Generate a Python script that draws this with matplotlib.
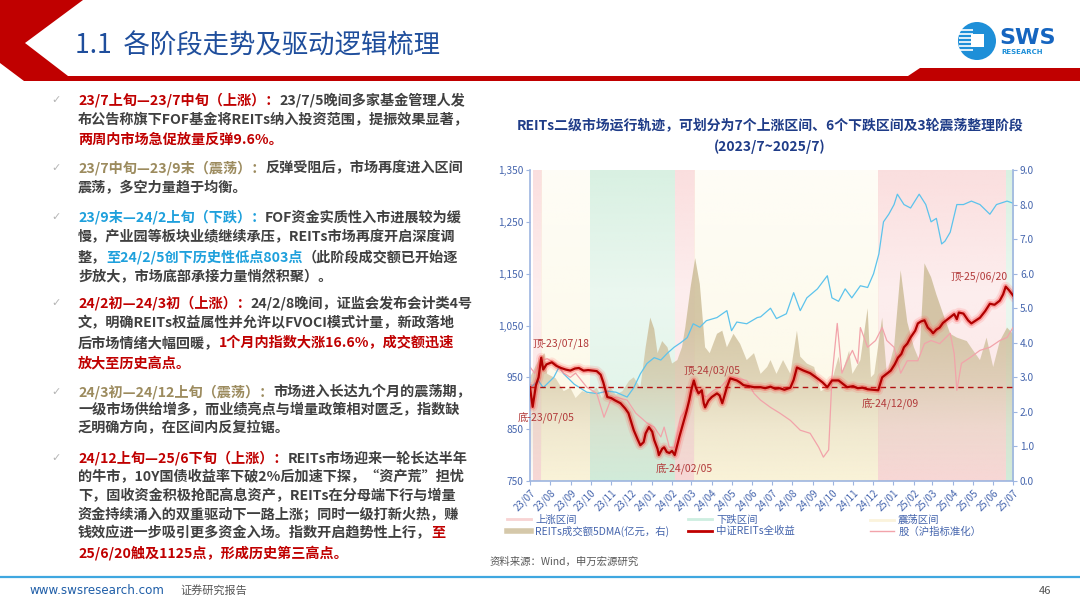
import numpy as np
import pandas as pd
import matplotlib
matplotlib.use("Agg")
from matplotlib import pyplot as plt
from matplotlib import rcParams
import matplotlib.dates as mdates
from matplotlib.lines import Line2D
from matplotlib.patches import Polygon, Circle, Rectangle
from matplotlib.colors import to_rgb
from matplotlib.ticker import FuncFormatter

FONT = ["Noto Sans CJK SC", "DejaVu Sans"]
rcParams["font.family"] = FONT
rcParams["axes.unicode_minus"] = False

navy = "#1f4e9c"
tickblue = "#4565ad"
spineblue = "#9db5e0"
red = "#c00000"
body = "#404040"
olive = "#9c8b5e"
sky = "#1ea0dc"

# ---------------- data ----------------
reits_dates = ["2023-07-01", "2023-07-05", "2023-07-10", "2023-07-14", "2023-07-18", "2023-07-21",
               "2023-07-26", "2023-08-03", "2023-08-10", "2023-08-17", "2023-08-24", "2023-08-31",
               "2023-09-07", "2023-09-13", "2023-09-20", "2023-09-27", "2023-10-10", "2023-10-16",
               "2023-10-20", "2023-10-26", "2023-11-01", "2023-11-06", "2023-11-15", "2023-11-22",
               "2023-11-27", "2023-12-05", "2023-12-11", "2023-12-15", "2023-12-20", "2023-12-23",
               "2023-12-28", "2024-01-02", "2024-01-05", "2024-01-10", "2024-01-12", "2024-01-17",
               "2024-01-20", "2024-01-24", "2024-01-28", "2024-02-01", "2024-02-05", "2024-02-08",
               "2024-02-12", "2024-02-19", "2024-02-23", "2024-02-27", "2024-03-01", "2024-03-05",
               "2024-03-08", "2024-03-12", "2024-03-17", "2024-03-20", "2024-03-22", "2024-03-27",
               "2024-04-01", "2024-04-09", "2024-04-13", "2024-04-17", "2024-04-21", "2024-04-24",
               "2024-04-29", "2024-05-09", "2024-05-14", "2024-05-19", "2024-05-27", "2024-06-04",
               "2024-06-14", "2024-06-21", "2024-06-29", "2024-07-06", "2024-07-13", "2024-07-20",
               "2024-07-29", "2024-08-03", "2024-08-08", "2024-08-13", "2024-08-18", "2024-08-28",
               "2024-09-08", "2024-09-16", "2024-09-23", "2024-09-30", "2024-10-10", "2024-10-16",
               "2024-10-23", "2024-11-01", "2024-11-08", "2024-11-15", "2024-11-23", "2024-12-01",
               "2024-12-09", "2024-12-15", "2024-12-20", "2024-12-28", "2025-01-03", "2025-01-08",
               "2025-01-13", "2025-01-17", "2025-01-22", "2025-01-27", "2025-02-03", "2025-02-07",
               "2025-02-12", "2025-02-17", "2025-02-22", "2025-02-27", "2025-03-02", "2025-03-07",
               "2025-03-12", "2025-03-17", "2025-03-22", "2025-03-30", "2025-04-03", "2025-04-07",
               "2025-04-10", "2025-04-17", "2025-04-24", "2025-04-29", "2025-05-06", "2025-05-12",
               "2025-05-20", "2025-05-27", "2025-06-03", "2025-06-11", "2025-06-16", "2025-06-20",
               "2025-06-25", "2025-07-01"]
reits_vals = [931, 893, 935, 950, 988, 965, 975, 979, 972, 968, 965, 963, 967, 968, 963, 964, 962, 955,
              940, 912, 910, 906, 900, 890, 881, 848, 830, 819, 825, 842, 854, 845, 829, 812, 800, 812,
              815, 806, 804, 808, 800, 815, 835, 867, 885, 906, 925, 944, 930, 919, 925, 900, 892, 905,
              912, 919, 915, 900, 918, 931, 948, 944, 940, 935, 933, 931, 931, 929, 932, 928, 929, 926,
              930, 945, 969, 966, 963, 958, 948, 940, 931, 944, 944, 938, 931, 933, 929, 930, 927, 926,
              925, 950, 955, 963, 975, 988, 995, 1008, 1015, 1027, 1040, 1054, 1058, 1060, 1046, 1040,
              1035, 1042, 1046, 1055, 1060, 1068, 1072, 1062, 1075, 1073, 1060, 1054, 1060, 1065, 1078,
              1092, 1090, 1098, 1110, 1125, 1118, 1108]

blue_dates = ["2023-07-01", "2023-07-14", "2023-07-21", "2023-08-06", "2023-08-14", "2023-08-21",
              "2023-08-28", "2023-09-06", "2023-09-25", "2023-10-10", "2023-10-26", "2023-11-08",
              "2023-11-25", "2023-12-05", "2023-12-15", "2023-12-25", "2024-01-05", "2024-01-15",
              "2024-01-25", "2024-02-04", "2024-02-14", "2024-02-24", "2024-03-04", "2024-03-14",
              "2024-03-24", "2024-04-09", "2024-04-24", "2024-05-01", "2024-05-09", "2024-05-24",
              "2024-06-09", "2024-06-14", "2024-06-29", "2024-07-08", "2024-07-23", "2024-08-03",
              "2024-08-13", "2024-08-23", "2024-09-08", "2024-09-23", "2024-09-30", "2024-10-10",
              "2024-10-20", "2024-10-30", "2024-11-12", "2024-11-23", "2024-12-02", "2024-12-10",
              "2024-12-17", "2024-12-25", "2025-01-02", "2025-01-07", "2025-01-17", "2025-01-27",
              "2025-02-09", "2025-02-19", "2025-02-27", "2025-03-07", "2025-03-15", "2025-03-20",
              "2025-03-28", "2025-04-07", "2025-04-17", "2025-04-29", "2025-05-12", "2025-05-27",
              "2025-06-06", "2025-06-22", "2025-07-01"]
blue_vals = [2.7, 2.9, 2.7, 3.0, 3.3, 3.1, 2.97, 2.8, 2.57, 2.53, 2.6, 2.57, 2.43, 2.7, 3.1, 3.4, 3.57,
             3.5, 3.7, 3.87, 4.0, 4.15, 4.55, 4.45, 4.64, 4.73, 4.93, 4.35, 4.6, 4.55, 4.73, 4.75, 5.0,
             4.7, 4.84, 5.45, 4.93, 5.3, 5.56, 5.94, 5.3, 5.2, 5.56, 5.3, 5.65, 5.6, 6.0, 6.57, 7.5,
             7.72, 8.0, 8.3, 8.0, 7.9, 8.3, 8.0, 7.5, 7.6, 6.86, 6.94, 7.2, 8.0, 8.0, 8.1, 8.0, 7.72,
             8.0, 8.1, 8.04]

stock_dates = ["2023-07-01", "2023-07-08", "2023-07-17", "2023-07-27", "2023-08-09", "2023-08-21",
               "2023-08-31", "2023-09-08", "2023-09-25", "2023-10-10", "2023-10-21", "2023-10-31",
               "2023-11-08", "2023-11-25", "2023-12-08", "2023-12-25", "2024-01-05", "2024-01-15",
               "2024-01-20", "2024-01-28", "2024-02-04", "2024-02-14", "2024-02-24", "2024-03-04",
               "2024-03-14", "2024-03-24", "2024-04-04", "2024-04-14", "2024-04-24", "2024-05-04",
               "2024-05-24", "2024-06-04", "2024-06-14", "2024-06-29", "2024-07-13", "2024-07-29",
               "2024-08-13", "2024-08-28", "2024-09-10", "2024-09-17", "2024-09-25", "2024-09-30",
               "2024-10-08", "2024-10-15", "2024-10-23", "2024-10-31", "2024-11-08", "2024-11-12",
               "2024-11-23", "2024-12-05", "2024-12-15", "2024-12-22", "2025-01-02", "2025-01-12",
               "2025-01-22", "2025-02-07", "2025-02-17", "2025-02-27", "2025-03-12", "2025-03-28",
               "2025-04-03", "2025-04-07", "2025-04-14", "2025-04-27", "2025-05-12", "2025-05-27",
               "2025-06-11", "2025-06-22", "2025-07-01"]
stock_vals = [970, 958, 982, 986, 977, 958, 950, 958, 931, 919, 873, 906, 912, 906, 881, 862, 854, 835,
              854, 815, 815, 873, 892, 925, 919, 912, 925, 931, 944, 950, 944, 919, 906, 892, 881, 867,
              848, 842, 815, 796, 810, 950, 1054, 958, 982, 1002, 977, 1046, 1008, 1021, 1046, 1021,
              1008, 958, 982, 982, 1015, 1021, 1015, 1035, 996, 925, 977, 988, 1002, 1008, 1021, 1027,
              1046]

turnover_dates = ["2023-07-01", "2023-07-14", "2023-07-23", "2023-07-27", "2023-08-09", "2023-08-21",
                  "2023-08-31", "2023-09-08", "2023-09-18", "2023-09-28", "2023-10-10", "2023-10-18",
                  "2023-10-31", "2023-11-08", "2023-11-18", "2023-11-28", "2023-12-05", "2023-12-15",
                  "2023-12-23", "2023-12-30", "2024-01-05", "2024-01-10", "2024-01-17", "2024-01-25",
                  "2024-02-01", "2024-02-09", "2024-02-16", "2024-02-21", "2024-02-29", "2024-03-07",
                  "2024-03-14", "2024-03-22", "2024-03-29", "2024-04-09", "2024-04-17", "2024-04-24",
                  "2024-05-04", "2024-05-14", "2024-05-24", "2024-06-04", "2024-06-14", "2024-06-24",
                  "2024-06-29", "2024-07-08", "2024-07-18", "2024-07-29", "2024-08-08", "2024-08-13",
                  "2024-08-23", "2024-09-03", "2024-09-13", "2024-09-23", "2024-09-30", "2024-10-10",
                  "2024-10-15", "2024-10-26", "2024-10-31", "2024-11-12", "2024-11-23", "2024-11-28",
                  "2024-12-03", "2024-12-15", "2024-12-22", "2025-01-02", "2025-01-12", "2025-01-22",
                  "2025-02-01", "2025-02-09", "2025-02-17", "2025-02-27", "2025-03-07", "2025-03-17",
                  "2025-03-28", "2025-04-07", "2025-04-22", "2025-05-02", "2025-05-12", "2025-05-22",
                  "2025-06-01", "2025-06-11", "2025-06-22", "2025-07-01"]
turnover_vals = [3.0, 3.5, 3.7, 3.1, 2.97, 2.6, 2.7, 2.4, 2.6, 2.53, 2.7, 2.4, 2.7, 2.5, 2.6, 2.9, 3.0,
                 2.7, 3.87, 4.73, 4.4, 3.7, 4.05, 3.87, 3.4, 3.5, 3.87, 4.44, 5.6, 6.45, 5.7, 3.87, 3.7,
                 4.26, 4.35, 3.87, 4.26, 3.97, 3.5, 3.7, 3.1, 3.3, 3.5, 3.1, 3.5, 3.1, 4.35, 3.6, 3.4,
                 3.3, 2.6, 2.7, 2.9, 3.6, 3.1, 3.77, 3.1, 3.5, 5.0, 3.0, 3.1, 4.73, 3.1, 3.87, 6.1, 4.6,
                 3.87, 3.5, 6.3, 5.9, 5.4, 4.85, 4.26, 4.15, 4.05, 3.77, 3.5, 4.15, 3.3, 4.05, 4.44, 4.26]

band_starts = ["2023-07-05", "2023-07-18", "2023-09-30", "2024-02-05", "2024-03-05", "2024-12-09", "2025-06-20"]
band_ends = ["2023-07-18", "2023-09-30", "2024-02-05", "2024-03-05", "2024-12-09", "2025-06-20", "2025-07-01"]
band_kinds = ["up", "flat", "down", "up", "flat", "up", "down"]

dashed_level = 931

peak_labels = ["底-23/07/05", "顶-23/07/18", "底-24/02/05", "顶-24/03/05", "底-24/12/09", "顶-25/06/20"]
peak_dates = ["2023-07-05", "2023-07-18", "2024-02-05", "2024-03-05", "2024-12-09", "2025-06-20"]
peak_vals = [893, 988, 800, 944, 925, 1125]
peak_offsets = [(10, -8), (14, 10), (7, -10), (13, 7), (9, -10), (-19, 7)]

band_colors = {"up": "#fad9d9", "down": "#d2eedd", "flat": "#fcf6dc"}

# ---------------- figure ----------------
fig = plt.figure(figsize=(10.8, 6.08), dpi=100)
fig.patch.set_facecolor("white")

# slide layer in pixel coordinates
bg = fig.add_axes([0, 0, 1, 1])
bg.set_xlim(0, 1080)
bg.set_ylim(608, 0)
bg.axis("off")

bg.add_patch(Polygon([(0, 0), (83, 0), (25, 43), (68, 76), (68, 81), (24, 81), (0, 63)],
                     closed=True, color=red, lw=0))
bg.add_patch(Polygon([(60, 76), (908, 76), (920, 68), (1080, 68), (1080, 81), (60, 81)],
                     closed=True, color=red, lw=0))
bg.text(75, 46, "1.1  各阶段走势及驱动逻辑梳理", fontsize=19, color=navy, va="center", ha="left")

# logo
bg.add_patch(Circle((977, 41), 19, color="#1e8fd8", lw=0))
for yy in [30, 34, 38, 42, 46, 50]:
    bg.plot([959, 973], [yy, yy], color="white", lw=1.2, solid_capstyle="butt")
bg.add_patch(Rectangle((971, 34), 13, 13, color="white", lw=0))
bg.text(999, 38, "SWS", fontsize=16, fontweight="bold", color="#1565c0", va="center", ha="left",
        family="DejaVu Sans")
bg.text(1001, 51.5, "RESEARCH", fontsize=5, fontweight="bold", color="#1e8fd8", va="center", ha="left",
        family="DejaVu Sans")

# left commentary
seg_colors = {"r": red, "k": body, "o": olive, "b": sky}
lines = [
    (100, True, [("23/7上旬—23/7中旬（上涨）：", "r"), ("23/7/5晚间多家基金管理人发", "k")]),
    (120, False, [("布公告称旗下FOF基金将REITs纳入投资范围，提振效果显著，", "k")]),
    (140, False, [("两周内市场急促放量反弹9.6%。", "r")]),
    (168, True, [("23/7中旬—23/9末（震荡）：", "o"), ("反弹受阻后，市场再度进入区间", "k")]),
    (188, False, [("震荡，多空力量趋于均衡。", "k")]),
    (217, True, [("23/9末—24/2上旬（下跌）：", "b"), ("FOF资金实质性入市进展较为缓", "k")]),
    (237, False, [("慢，产业园等板块业绩继续承压，REITs市场再度开启深度调", "k")]),
    (257, False, [("整，", "k"), ("至24/2/5创下历史性低点803点", "b"), ("（此阶段成交额已开始逐", "k")]),
    (277, False, [("步放大，市场底部承接力量悄然积聚）。", "k")]),
    (303, True, [("24/2初—24/3初（上涨）：", "r"), ("24/2/8晚间，证监会发布会计类4号", "k")]),
    (323, False, [("文，明确REITs权益属性并允许以FVOCI模式计量，新政落地", "k")]),
    (343, False, [("后市场情绪大幅回暖，", "k"), ("1个月内指数大涨16.6%，成交额迅速", "r")]),
    (363, False, [("放大至历史高点。", "r")]),
    (392, True, [("24/3初—24/12上旬（震荡）：", "o"), ("市场进入长达九个月的震荡期，", "k")]),
    (410, False, [("一级市场供给增多，而业绩亮点与增量政策相对匮乏，指数缺", "k")]),
    (428, False, [("乏明确方向，在区间内反复拉锯。", "k")]),
    (458, True, [("24/12上旬—25/6下旬（上涨）：", "r"), ("REITs市场迎来一轮长达半年", "k")]),
    (477, False, [("的牛市，10Y国债收益率下破2%后加速下探，“资产荒”担忧", "k")]),
    (496, False, [("下，固收资金积极抢配高息资产，REITs在分母端下行与增量", "k")]),
    (515, False, [("资金持续涌入的双重驱动下一路上涨；同时一级打新火热，赚", "k")]),
    (533, False, [("钱效应进一步吸引更多资金入场。指数开启趋势性上行，", "k"), ("至", "r")]),
    (553, False, [("25/6/20触及1125点，形成历史第三高点。", "r")]),
]
for y, bullet, segs in lines:
    if bullet:
        bg.text(56, y, "✓", fontsize=8, color="#b5b5b5", va="center", ha="center", family="DejaVu Sans")
    prev = None
    for s, c in segs:
        kw = dict(fontsize=10.2, color=seg_colors[c], fontweight="bold")
        if prev is None:
            prev = bg.text(78, y, s, va="center", ha="left", **kw)
        else:
            prev = bg.annotate(s, xy=(1, 0), xycoords=prev, va="bottom", ha="left", **kw)

# footer
bg.plot([0, 1080], [577, 577], color="#3fa7e0", lw=1.6)
bg.text(30, 591, "www.swsresearch.com", fontsize=8.6, color="#1f5ea8", va="center", ha="left",
        family="DejaVu Sans")
bg.text(180, 590, "证券研究报告", fontsize=8, color="#555555", va="center", ha="left")
bg.text(1045, 591, "46", fontsize=8, color="#555555", va="center", ha="center")
bg.text(490, 562, "资料来源：Wind，申万宏源研究", fontsize=7.5, color="#595959", va="center", ha="left")

# chart title
bg.text(770, 125, "REITs二级市场运行轨迹，可划分为7个上涨区间、6个下跌区间及3轮震荡整理阶段",
        fontsize=10, fontweight="bold", color="#1f3c88", ha="center", va="center")
bg.text(770, 147, "(2023/7~2025/7)", fontsize=10, fontweight="bold", color="#1f3c88",
        ha="center", va="center")

# ---------------- chart ----------------
ax = fig.add_axes([530 / 1080, 1 - 481 / 608, 483 / 1080, 311 / 608])
ax2 = ax.twinx()
ax.set_zorder(ax2.get_zorder() + 1)
ax.patch.set_visible(False)

xmin = mdates.date2num(pd.Timestamp("2023-07-01"))
xmax = mdates.date2num(pd.Timestamp("2025-07-01"))

# shaded regimes with a soft vertical gradient
h = np.linspace(1, 0, 200)
for s, e, k in zip(band_starts, band_ends, band_kinds):
    img = np.zeros((200, 1, 4))
    img[:, :, :3] = to_rgb(band_colors[k])
    if k == "flat":
        img[:, 0, 3] = np.interp(h, [0, 0.4, 1], [1.0, 0.55, 0.25])
    else:
        img[:, 0, 3] = np.interp(h, [0, 0.3, 0.6, 1], [1.0, 0.6, 0.45, 0.85])
    ax2.imshow(img, extent=[mdates.date2num(pd.Timestamp(s)), mdates.date2num(pd.Timestamp(e)), 0, 9],
               aspect="auto", origin="upper", zorder=0, interpolation="bilinear")

# turnover area with fading fill
td = mdates.date2num(pd.to_datetime(turnover_dates))
poly = ax2.fill_between(td, 0, turnover_vals, facecolor="none", edgecolor="none")
grad = np.zeros((300, 1, 4))
grad[:, :, :3] = to_rgb("#cbbb95")
vals = np.linspace(9, 0, 300)
grad[:, 0, 3] = np.interp(vals, [0, 1.5, 3.0, 4.5, 9], [0.05, 0.25, 0.6, 0.8, 0.85])
im = ax2.imshow(grad, extent=[xmin, xmax, 0, 9], aspect="auto", origin="upper", zorder=1)
im.set_clip_path(poly.get_paths()[0], transform=ax2.transData)

ax2.plot(pd.to_datetime(blue_dates), blue_vals, color="#5cc3ec", lw=0.9, zorder=2)

# left-axis series
ax.plot(pd.to_datetime(stock_dates), stock_vals, color="#f2a3aa", lw=0.9, zorder=2)
ax.axhline(dashed_level, color="#b01010", ls=(0, (4, 3)), lw=1.0, zorder=3)
rd = pd.to_datetime(reits_dates)
ax.plot(rd, reits_vals, color="#ff4040", lw=7, alpha=0.13, zorder=4, solid_joinstyle="round")
ax.plot(rd, reits_vals, color="#ff2020", lw=4, alpha=0.3, zorder=4, solid_joinstyle="round")
ax.plot(rd, reits_vals, color="#b00000", lw=1.6, zorder=5)

for lab, d, v, off in zip(peak_labels, peak_dates, peak_vals, peak_offsets):
    ax.annotate(lab, xy=(pd.Timestamp(d), v), xytext=off, textcoords="offset points",
                ha="center", va="center", fontsize=7.5, color="#b23a3a", zorder=6)

ax.set_xlim(xmin, xmax)
ax.set_ylim(750, 1350)
ax2.set_ylim(0, 9)
ax.set_yticks([750, 850, 950, 1050, 1150, 1250, 1350])
ax2.set_yticks(np.arange(0, 9.1, 1))
ax.yaxis.set_major_formatter(FuncFormatter(lambda v, p: f"{v:,.0f}"))
ax2.yaxis.set_major_formatter(FuncFormatter(lambda v, p: f"{v:.1f}"))
ax.xaxis.set_major_locator(mdates.MonthLocator())
ax.xaxis.set_major_formatter(mdates.DateFormatter("%y/%m"))

for a in (ax, ax2):
    a.tick_params(labelsize=7.3, colors=tickblue, length=3, width=0.8, pad=2)
    a.tick_params(axis="both", color=spineblue)
    for sp in a.spines.values():
        sp.set_visible(False)
for lab in ax.get_xticklabels():
    lab.set_rotation(45)
    lab.set_ha("right")
    lab.set_rotation_mode("anchor")
    lab.set_fontsize(7.0)
for sp in ("left", "bottom"):
    ax.spines[sp].set_visible(True)
    ax.spines[sp].set_color(spineblue)
    ax.spines[sp].set_linewidth(1.2)
ax2.spines["right"].set_visible(True)
ax2.spines["right"].set_color(spineblue)
ax2.spines["right"].set_linewidth(1.2)

# legend, three hand-placed columns
leg_cols = [
    (507, [Line2D([], [], color="#f8d3d3", lw=2), Line2D([], [], color="#d5c8aa", lw=4)],
     ["上涨区间", "REITs成交额5DMA(亿元，右)"]),
    (688, [Line2D([], [], color="#cdeee0", lw=2), Line2D([], [], color=red, lw=2)],
     ["下跌区间", "中证REITs全收益"]),
    (870, [Line2D([], [], color="#fbf3dc", lw=2), Line2D([], [], color="#f2a3aa", lw=1)],
     ["震荡区间", "股（沪指标准化）"]),
]
for x0, hs, ls in leg_cols:
    fig.legend(hs, ls, loc="upper left", bbox_to_anchor=(x0 / 1080, 1 - 515 / 608), frameon=False,
               fontsize=7.5, labelcolor=tickblue, handlelength=2.3, handletextpad=0.4,
               labelspacing=0.1, borderpad=0, borderaxespad=0)

fig.savefig("out.png", dpi=100)
